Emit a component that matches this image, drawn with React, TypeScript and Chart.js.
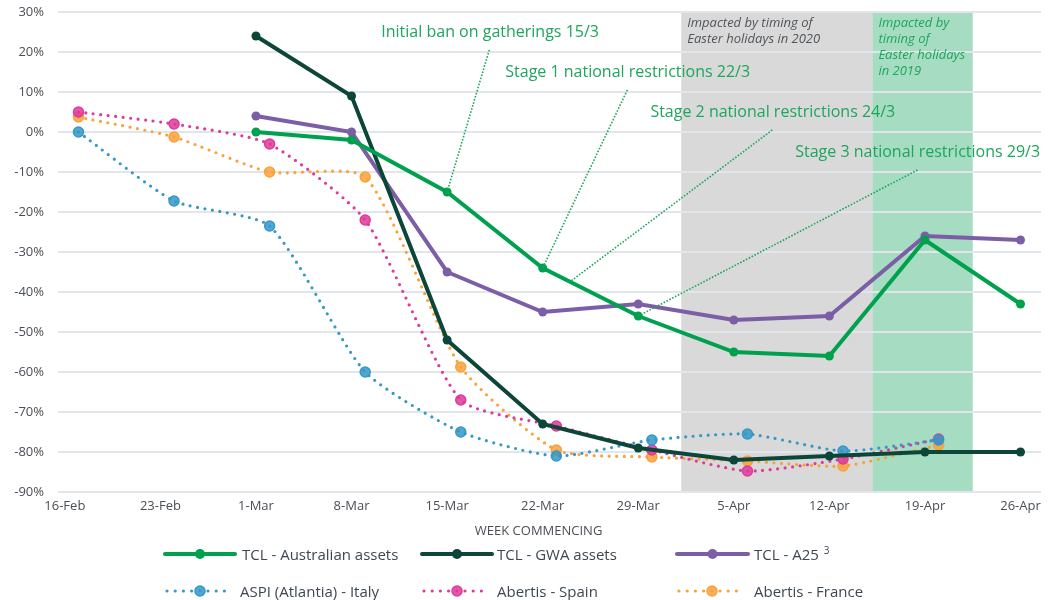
import React, { useEffect, useRef } from 'react';
import { Chart, registerables } from 'chart.js';

Chart.register(...registerables);

// ---------- data ----------
const weekLabels = ['16-Feb', '23-Feb', '1-Mar', '8-Mar', '15-Mar', '22-Mar', '29-Mar', '5-Apr', '12-Apr', '19-Apr', '26-Apr'];
const weekDays = [0, 7, 14, 21, 28, 35, 42, 49, 56, 63, 70];

const tclDays = [14, 21, 28, 35, 42, 49, 56, 63, 70];
const tclAustralian = [0, -2, -15, -34, -46, -55, -56, -27, -43];
const tclGwa = [24, 9, -52, -73, -79, -82, -81, -80, -80];
const tclA25 = [4, 0, -35, -45, -43, -47, -46, -26, -27];

const europeDays = [1, 8, 15, 22, 29, 36, 43, 50, 57, 64];
const aspiItaly = [0, -17.25, -23.5, -60, -75, -81, -77, -75.5, -79.75, -77];
const abertisSpain = [5, 2, -3, -22, -67, -73.5, -79.5, -84.75, -81.75, -76.75];
const abertisFrance = [3.75, -1.25, -10, -11.25, -58.75, -79.5, -81.25, -82.25, -83.5, -78.25];

const seriesNames = ['TCL - Australian assets', 'TCL - GWA assets', 'TCL - A25', 'ASPI (Atlantia) - Italy', 'Abertis - Spain', 'Abertis - France'];

// shaded periods (day offsets from 16-Feb)
const easter2020 = [45.15, 59.15];
const easter2019 = [59.15, 66.5];
const easter2020Text = ['Impacted by timing of', 'Easter holidays in 2020'];
const easter2019Text = ['Impacted by', 'timing of', 'Easter holidays', 'in 2019'];

// event annotations
const eventTexts = ['Initial ban on gatherings 15/3', 'Stage 1 national restrictions 22/3', 'Stage 2 national restrictions 24/3', 'Stage 3 national restrictions 29/3'];
const eventDays = [28, 35, 37, 42];
const eventTextX = [23.18, 32.26, 42.89, 53.5];
const eventTextY = [25, 15, 5, -5];
const eventLineX = [31.09, 41.2, 51.82, 62.45];
const eventLineY = [20.5, 10.5, 0.5, -9.5];

// ---------- styles ----------
const FONT = "'Open Sans', 'Noto Sans', sans-serif";
const C_AUS = '#00a14e';
const C_GWA = '#0c4638';
const C_A25 = '#7b5ea6';
const C_ITA = '#3598c7';
const C_ESP = '#de3a9b';
const C_FRA = '#f8a23b';
const C_NOTE = '#1ea65c';
const TEXT = '#4a4f55';

function rgba(hex: string, a: number) {
  const n = parseInt(hex.slice(1), 16);
  return `rgba(${(n >> 16) & 255},${(n >> 8) & 255},${n & 255},${a})`;
}

function interpAt(days: number[], vals: number[], d: number) {
  for (let i = 0; i < days.length - 1; i++) {
    if (d >= days[i] && d <= days[i + 1]) {
      const t = (d - days[i]) / (days[i + 1] - days[i]);
      return vals[i] + t * (vals[i + 1] - vals[i]);
    }
  }
  return vals[vals.length - 1];
}

const annotationPlugin = {
  id: 'annotations',
  beforeDraw(chart: any) {
    const { ctx, chartArea, scales } = chart;
    const x = scales.x;
    ctx.save();
    ctx.fillStyle = '#d9d9d9';
    const g1 = x.getPixelForValue(easter2020[0]);
    const g2 = x.getPixelForValue(easter2020[1]);
    ctx.fillRect(g1, chartArea.top, g2 - g1, chartArea.bottom - chartArea.top);
    ctx.fillStyle = '#a6dcc1';
    const h1 = x.getPixelForValue(easter2019[0]);
    const h2 = x.getPixelForValue(easter2019[1]);
    ctx.fillRect(h1, chartArea.top, h2 - h1, chartArea.bottom - chartArea.top);
    ctx.restore();
  },
  afterDatasetsDraw(chart: any) {
    const { ctx, chartArea, scales } = chart;
    const x = scales.x;
    const y = scales.y;
    ctx.save();
    // shaded labels
    ctx.font = `italic 13px ${FONT}`;
    ctx.textAlign = 'left';
    ctx.textBaseline = 'middle';
    ctx.fillStyle = '#50555b';
    const g1 = x.getPixelForValue(easter2020[0]);
    easter2020Text.forEach((t, i) => ctx.fillText(t, g1 + 6, chartArea.top + 11.5 + i * 16));
    ctx.fillStyle = C_NOTE;
    const h1 = x.getPixelForValue(easter2019[0]);
    easter2019Text.forEach((t, i) => ctx.fillText(t, h1 + 6, chartArea.top + 11.5 + i * 16));

    // leader lines
    ctx.strokeStyle = C_NOTE;
    ctx.lineWidth = 1.6;
    ctx.setLineDash([1.6, 1.6]);
    eventDays.forEach((d, i) => {
      const v = interpAt(tclDays, tclAustralian, d);
      ctx.beginPath();
      ctx.moveTo(x.getPixelForValue(eventLineX[i]), y.getPixelForValue(eventLineY[i]));
      ctx.lineTo(x.getPixelForValue(d), y.getPixelForValue(v));
      ctx.stroke();
    });
    ctx.setLineDash([]);

    // event texts
    ctx.font = `16px ${FONT}`;
    ctx.fillStyle = C_NOTE;
    eventTexts.forEach((t, i) => {
      ctx.fillText(t, x.getPixelForValue(eventTextX[i]), y.getPixelForValue(eventTextY[i]));
    });

    // axis title
    ctx.font = `13px ${FONT}`;
    ctx.fillStyle = TEXT;
    ctx.textAlign = 'center';
    ctx.fillText('WEEK COMMENCING', x.getPixelForValue(34.7), chartArea.bottom + 39);
    ctx.restore();
  },
};

function solid(label: string, vals: number[], color: string) {
  return {
    label,
    data: tclDays.map((d, i) => ({ x: d, y: vals[i] })),
    borderColor: color,
    backgroundColor: color,
    borderWidth: 4,
    pointRadius: 4.5,
    pointBorderWidth: 0,
    pointBackgroundColor: color,
    tension: 0,
  };
}

function dotted(label: string, vals: number[], color: string) {
  return {
    label,
    data: europeDays.map((d, i) => ({ x: d, y: vals[i] })),
    borderColor: color,
    backgroundColor: color,
    borderWidth: 3.2,
    borderDash: [0, 7.5],
    borderCapStyle: 'round',
    tension: 0.2,
    pointRadius: 5,
    pointBorderWidth: 1.5,
    pointBorderColor: color,
    pointBackgroundColor: rgba(color, 0.85),
  };
}

type LegendItem = { name: string; color: string; kind: 'solid' | 'dotted'; x1: number; x2: number; tx: number; y: number; sup?: string };

const legendItems: LegendItem[] = [
  { name: seriesNames[0], color: C_AUS, kind: 'solid', x1: 165, x2: 235, tx: 242, y: 554 },
  { name: seriesNames[1], color: C_GWA, kind: 'solid', x1: 422, x2: 492, tx: 497, y: 554 },
  { name: seriesNames[2], color: C_A25, kind: 'solid', x1: 677, x2: 748, tx: 754, y: 554, sup: '3' },
  { name: seriesNames[3], color: C_ITA, kind: 'dotted', x1: 167, x2: 228, tx: 240, y: 591 },
  { name: seriesNames[4], color: C_ESP, kind: 'dotted', x1: 424, x2: 485, tx: 497, y: 591 },
  { name: seriesNames[5], color: C_FRA, kind: 'dotted', x1: 679, x2: 740, tx: 754, y: 591 },
];

export default function App() {
  const canvasRef = useRef<HTMLCanvasElement | null>(null);

  useEffect(() => {
    if (!canvasRef.current) return;
    const chart = new Chart(canvasRef.current, {
      type: 'line',
      data: {
        datasets: [
          solid(seriesNames[0], tclAustralian, C_AUS),
          solid(seriesNames[1], tclGwa, C_GWA),
          solid(seriesNames[2], tclA25, C_A25),
          dotted(seriesNames[3], aspiItaly, C_ITA),
          dotted(seriesNames[4], abertisSpain, C_ESP),
          dotted(seriesNames[5], abertisFrance, C_FRA),
        ] as any,
      },
      options: {
        animation: false,
        responsive: false,
        maintainAspectRatio: false,
        layout: { padding: { top: 12, right: 14, left: 0, bottom: 0 } },
        plugins: { legend: { display: false }, tooltip: { enabled: false } },
        scales: {
          x: {
            type: 'linear',
            min: -0.5,
            max: 71.5,
            grid: { display: false, drawTicks: false },
            border: { display: false },
            afterBuildTicks: (axis: any) => {
              axis.ticks = weekDays.map((v) => ({ value: v }));
            },
            afterFit: (axis: any) => {
              axis.height = 108;
              axis.paddingLeft = 0;
              axis.paddingRight = 0;
            },
            ticks: {
              autoSkip: false,
              maxRotation: 0,
              minRotation: 0,
              padding: 6,
              color: TEXT,
              font: { family: FONT, size: 13 },
              callback: (_v: any, i: number) => weekLabels[i],
            },
          },
          y: {
            min: -90,
            max: 30,
            afterFit: (axis: any) => {
              axis.width = 58;
              axis.paddingTop = 0;
              axis.paddingBottom = 0;
            },
            grid: { color: '#e2e6ea', lineWidth: 2, drawTicks: false },
            border: { display: false },
            ticks: {
              stepSize: 10,
              padding: 14,
              color: TEXT,
              font: { family: FONT, size: 13 },
              callback: (v: any) => `${v}%`,
            },
          },
        },
      } as any,
      plugins: [annotationPlugin],
    });
    return () => chart.destroy();
  }, []);

  return (
    <div style={{ position: 'absolute', left: 0, top: 0, width: 1055, height: 600, background: '#fff', fontFamily: FONT }}>
      <canvas ref={canvasRef} width={1055} height={600} style={{ position: 'absolute', left: 0, top: 0, width: 1055, height: 600 }} />
      <svg width={1055} height={600} style={{ position: 'absolute', left: 0, top: 0, pointerEvents: 'none' }}>
        {legendItems.map((it, i) => {
          const cx = (it.x1 + it.x2) / 2;
          const mid = it.kind === 'solid' ? cx : 200 + (it.x1 - 167);
          return (
            <g key={i}>
              {it.kind === 'solid' ? (
                <line x1={it.x1} y1={it.y} x2={it.x2} y2={it.y} stroke={it.color} strokeWidth={4} strokeLinecap="round" />
              ) : (
                <line x1={it.x1} y1={it.y} x2={it.x2} y2={it.y} stroke={it.color} strokeWidth={3.2} strokeDasharray="0 8.2" strokeLinecap="round" />
              )}
              <circle cx={mid} cy={it.y} r={5} fill={it.kind === 'solid' ? it.color : rgba(it.color, 0.85)} stroke={it.color} strokeWidth={it.kind === 'solid' ? 0 : 1.5} />
            </g>
          );
        })}
      </svg>
      {legendItems.map((it, i) => (
        <div
          key={'t' + i}
          style={{ position: 'absolute', left: it.tx, top: it.y - 10.5, fontSize: 15, lineHeight: '20px', color: '#3e4750', whiteSpace: 'nowrap' }}
        >
          {it.name}
          {it.sup ? <span style={{ fontSize: 10, position: 'relative', top: -6, marginLeft: 5 }}>{it.sup}</span> : null}
        </div>
      ))}
    </div>
  );
}
